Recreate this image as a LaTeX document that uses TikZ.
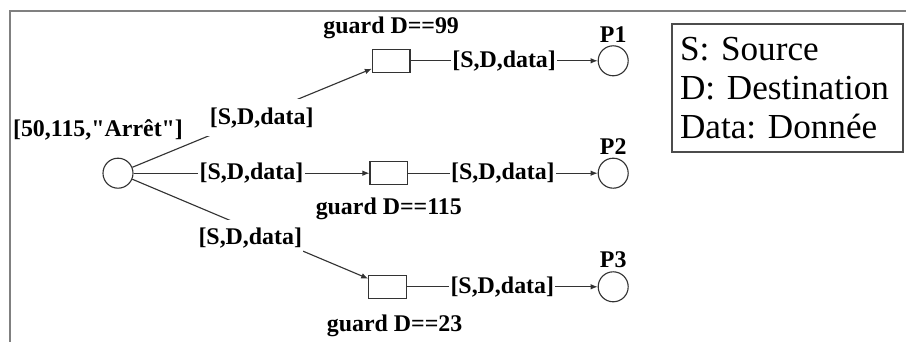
\documentclass[tikz,border=0pt]{standalone}
\usepackage{fontspec}
\setmainfont{Liberation Serif}
\frenchspacing
\usetikzlibrary{arrows.meta,positioning}

\begin{document}
\begin{tikzpicture}[
  >={Latex[length=5pt,width=4pt]},
  pl/.style={circle,draw=black!80,line width=.8pt,minimum size=.75cm,inner sep=0pt},
  tr/.style={rectangle,draw=black!80,line width=.8pt,minimum width=.94cm,minimum height=.57cm,inner sep=0pt},
  every node/.style={font=\fontsize{17}{20}\selectfont\bfseries},
  lab/.style={fill=white,text=black,inner sep=1pt},
  dlab/.style={lab,inner ysep=6pt},
  arc/.style={->,line width=.8pt,draw=black!80}
]
\useasboundingbox (0,0) rectangle (22.65,8.55);
\draw[gray,line width=2.1pt] (0.25,0) -- (0.25,8.275) -- (22.65,8.275);
\node[pl] (src) at (2.95,4.22) {};
\node[tr] (t1) at (9.78,7.03) {};
\node[tr] (t2) at (9.72,4.22) {};
\node[tr] (t3) at (9.69,1.38) {};
\node[pl] (p1) at (15.33,7.03) {};
\node[pl] (p2) at (15.33,4.22) {};
\node[pl] (p3) at (15.33,1.38) {};
\node[above=11pt of src,xshift=-.5cm,inner sep=1pt] (init) {[50,115,\textquotedbl Arrêt\textquotedbl]};
\node[above=6pt of t1,inner sep=1pt] (g1) {guard D==99};
\node[below=8pt of t2,inner sep=1pt] (g2) {guard D==115};
\node[below=10.5pt of t3,xshift=5pt,inner sep=1pt] (g3) {guard D==23};
\node[above=1pt of p1,inner sep=1pt] (lp1) {P1};
\node[above=1pt of p2,inner sep=1pt] (lp2) {P2};
\node[above=1pt of p3,inner sep=1pt] (lp3) {P3};
\draw[arc] (src) -- node[dlab,inner xsep=11pt,pos=.54,yshift=-2.5pt] (a1) {[S,D,data]} (t1);
\draw[arc] (src) -- node[lab] (a2) {[S,D,data]} (t2);
\draw[arc] (src) -- node[dlab,yshift=-6.5pt] (a3) {[S,D,data]} (t3);
\draw[arc] (t1) -- node[lab] (b1) {[S,D,data]} (p1);
\draw[arc] (t2) -- node[lab] (b2) {[S,D,data]} (p2);
\draw[arc] (t3) -- node[lab] (b3) {[S,D,data]} (p3);
\node[draw=black!70,line width=.9pt,font=\fontsize{25}{28}\selectfont,align=left,
  text width=5.375cm,inner xsep=.2cm,minimum height=3.2cm] (leg) at (19.69,6.35)
  {S: Source\\D: Destination\\Data: Donnée};
\end{tikzpicture}
\end{document}
